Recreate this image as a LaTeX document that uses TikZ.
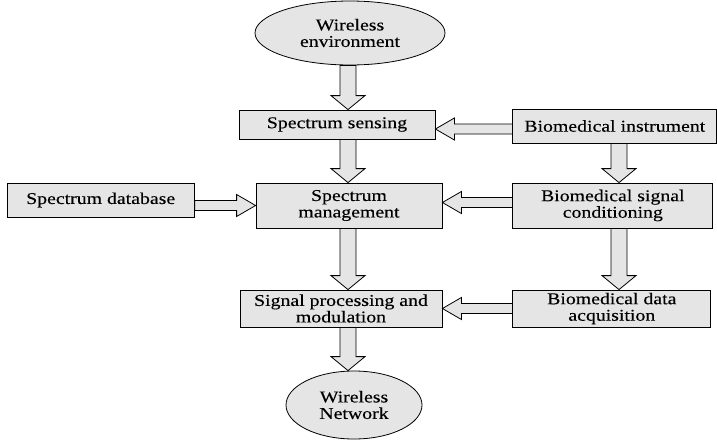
\documentclass[tikz,border=0pt]{standalone}
\usepackage{fontspec}
\setmainfont{Liberation Serif}[FakeStretch=1.2, FakeBold=0.25]
\usetikzlibrary{calc, positioning, shapes.geometric}
\tikzset{
  block/.style = {draw, line width=0.8pt, fill=black!10, inner sep=0pt,
                  align=center, font=\fontsize{16.5}{16.5}\selectfont},
  terminal/.style = {block, ellipse},
  flow/.style = {draw, line width=0.8pt, fill=black!10, line join=miter},
}
\def\vshaft{8pt}
\def\vwing{17pt}
\def\vhead{14pt}
\def\hshaft{5pt}
\def\hwing{11pt}
\def\hhead{19pt}
\newcommand{\flowdown}[2]{%
  %% Hollow block arrow pointing down, x taken from the first point
  \draw [flow] let \p1 = (#1), \p2 = (#2) in
    (\x1-\vshaft, \y1) -- (\x1-\vshaft, \y2+\vhead) -- (\x1-\vwing, \y2+\vhead)
    -- (\x1, \y2) -- (\x1+\vwing, \y2+\vhead) -- (\x1+\vshaft, \y2+\vhead)
    -- (\x1+\vshaft, \y1) -- cycle;
}
\newcommand{\flowleft}[2]{%
  %% Hollow block arrow pointing left, y taken from the first point
  \draw [flow] let \p1 = (#1), \p2 = (#2) in
    (\x1, \y1+\hshaft) -- (\x2+\hhead, \y1+\hshaft) -- (\x2+\hhead, \y1+\hwing)
    -- (\x2, \y1) -- (\x2+\hhead, \y1-\hwing) -- (\x2+\hhead, \y1-\hshaft)
    -- (\x1, \y1-\hshaft) -- cycle;
}
\newcommand{\flowright}[2]{%
  %% Hollow block arrow pointing right, y taken from the first point
  \draw [flow] let \p1 = (#1), \p2 = (#2) in
    (\x1, \y1+\hshaft) -- (\x2-\hhead, \y1+\hshaft) -- (\x2-\hhead, \y1+\hwing)
    -- (\x2, \y1) -- (\x2-\hhead, \y1-\hwing) -- (\x2-\hhead, \y1-\hshaft)
    -- (\x1, \y1-\hshaft) -- cycle;
}

\begin{document}
\begin{tikzpicture}[x=1pt, y=-1pt]
    \useasboundingbox (0, 0) rectangle (717, 442);

    %% Middle column
    \node [terminal, minimum width=190pt, minimum height=64pt] (env) at (350, 33)
          {Wireless\\environment};
    \node [block, minimum width=196pt, minimum height=29pt] (sensing) at (337, 124.5)
          {Spectrum sensing};
    \node [block, minimum width=186pt, minimum height=45pt] (management) at (349, 205.5)
          {Spectrum\\management};
    \node [block, minimum width=202pt, minimum height=37pt] (sigproc) at (341, 308.5)
          {Signal processing and\\modulation};
    \node [terminal, minimum width=136pt, minimum height=68pt] (network) at (354, 405)
          {Wireless\\Network};

    %% Side boxes
    \node [block, minimum width=187pt, minimum height=34pt,
           left=61pt of management, yshift=5.5pt] (database) {Spectrum database};
    \node [block, minimum width=204pt, minimum height=34pt,
           right=77pt of sensing, yshift=-1.5pt] (instrument) {Biomedical instrument};
    \node [block, minimum width=200pt, minimum height=45pt,
           right=70pt of management] (conditioning) {Biomedical signal\\conditioning};
    \node [block, minimum width=198pt, minimum height=37pt,
           right=70pt of sigproc] (acquisition) {Biomedical data\\acquisition};

    \coordinate (spine) at (348, 0);
    \coordinate (rspine) at (619, 0);

    %% Downward flow
    \flowdown{env.south -| spine}{sensing.north -| spine}
    \flowdown{sensing.south -| spine}{management.north -| spine}
    \flowdown{management.south -| spine}{sigproc.north -| spine}
    \flowdown{sigproc.south -| spine}{network.north -| spine}
    \flowdown{instrument.south -| rspine}{conditioning.north -| rspine}
    \flowdown{conditioning.south -| rspine}{acquisition.north -| rspine}

    %% Sideways flow into the middle column
    \flowleft{[yshift=-3pt]instrument.west}{sensing.east}
    \flowleft{[yshift=3pt]conditioning.west}{management.east}
    \flowleft{acquisition.west}{sigproc.east}
    \flowright{database.east |- management.west}{management.west}
\end{tikzpicture}
\end{document}
